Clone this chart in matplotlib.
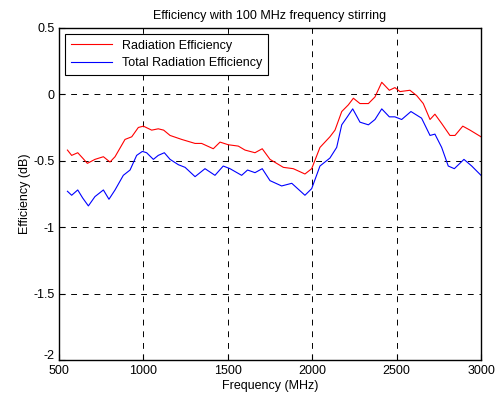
import matplotlib.pyplot as plt
import matplotlib.transforms as mtransforms

plt.rcParams['font.family'] = ['Liberation Sans', 'DejaVu Sans']

freq_rad = [550, 575, 611, 640, 668, 713, 763, 802, 832, 891, 931, 970, 1000, 1049, 1088,
            1120, 1158, 1227, 1306, 1345, 1414, 1454, 1503, 1562, 1602, 1661, 1704, 1750,
            1829, 1888, 1957, 1997, 2046, 2105, 2135, 2175, 2214, 2244, 2283, 2333, 2372,
            2412, 2457, 2490, 2520, 2579, 2619, 2658, 2698, 2727, 2767, 2816, 2846, 2892,
            2935, 3000]
rad_eff = [-0.42, -0.46, -0.44, -0.48, -0.52, -0.49, -0.47, -0.51, -0.47, -0.34, -0.32, -0.25,
           -0.24, -0.27, -0.26, -0.27, -0.31, -0.34, -0.37, -0.37, -0.41, -0.36, -0.38, -0.39,
           -0.42, -0.44, -0.41, -0.49, -0.55, -0.56, -0.60, -0.56, -0.40, -0.32, -0.27, -0.13,
           -0.08, -0.03, -0.07, -0.07, -0.02, 0.09, 0.03, 0.05, 0.02, 0.03, -0.01, -0.07, -0.19,
           -0.15, -0.22, -0.31, -0.31, -0.24, -0.27, -0.32]

freq_tot = [550, 575, 611, 640, 674, 713, 763, 796, 832, 881, 921, 960, 994, 1019, 1059, 1088,
            1124, 1158, 1207, 1247, 1306, 1365, 1424, 1473, 1513, 1582, 1617, 1661, 1704, 1750,
            1819, 1879, 1957, 1997, 2046, 2105, 2145, 2175, 2208, 2240, 2283, 2333, 2372, 2412,
            2457, 2490, 2530, 2585, 2648, 2698, 2727, 2767, 2806, 2842, 2899, 2945, 3000]
tot_eff = [-0.73, -0.76, -0.72, -0.78, -0.84, -0.77, -0.72, -0.79, -0.72, -0.61, -0.57, -0.46,
           -0.43, -0.44, -0.49, -0.46, -0.44, -0.49, -0.53, -0.55, -0.62, -0.56, -0.61, -0.54,
           -0.56, -0.61, -0.57, -0.59, -0.56, -0.65, -0.69, -0.67, -0.76, -0.71, -0.54, -0.48,
           -0.40, -0.23, -0.17, -0.11, -0.21, -0.23, -0.19, -0.11, -0.17, -0.17, -0.19, -0.13,
           -0.18, -0.31, -0.30, -0.40, -0.54, -0.56, -0.49, -0.54, -0.61]

fig = plt.figure(figsize=(5, 3.97), dpi=100)
ax = fig.add_axes([0.118, 0.093, 0.844, 0.837])

ax.plot(freq_rad, rad_eff, color='red', lw=0.8, label='Radiation Efficiency')
ax.plot(freq_tot, tot_eff, color='blue', lw=0.8, label='Total Radiation Efficiency')

ax.set_xlim(500, 3000)
ax.set_ylim(-2, 0.5)
ax.set_xticks([500, 1000, 1500, 2000, 2500, 3000])
ax.set_yticks([-2, -1.5, -1, -0.5, 0, 0.5])
ax.set_yticklabels(['-2', '-1.5', '-1', '-0.5', '0', '0.5'])
ax.grid(True, color='black', linestyle=(0, (6, 6)), lw=0.7)
ax.tick_params(direction='in', labelsize=9, length=4)
ax.tick_params(axis='y', pad=3)
for s in ax.spines.values():
    s.set_linewidth(1.0)

# nudge the bottom y label up a bit so it clears the "500"
lab = ax.get_yticklabels()[0]
lab.set_transform(lab.get_transform() + mtransforms.ScaledTranslation(0, 4 / 72, fig.dpi_scale_trans))

ax.set_xlabel('Frequency (MHz)', fontsize=9, labelpad=2)
ax.set_ylabel('Efficiency (dB)', fontsize=9, labelpad=2)
ax.set_title('Efficiency with 100 MHz frequency stirring', fontsize=9)

leg = ax.legend(loc='upper left', fontsize=9, fancybox=False, framealpha=1,
                edgecolor='black', borderaxespad=0.5, handlelength=3.3,
                labelspacing=0.45, borderpad=0.45)
leg.get_frame().set_linewidth(0.8)

fig.savefig('out.png', dpi=100)
